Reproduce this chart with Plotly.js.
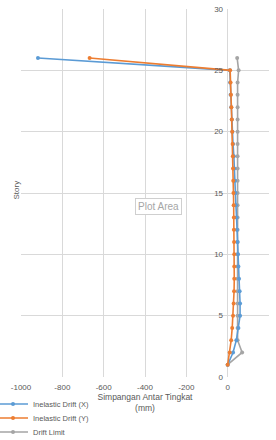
<!DOCTYPE html>
<html>
<head>
<meta charset="utf-8">
<script src="https://cdn.plot.ly/plotly-3.0.1.min.js"></script>
<style>
html,body{margin:0;padding:0;background:#fff;}
#chart{width:276px;height:440px;}
</style>
</head>
<body>
<div id="chart"></div>
<script>
var stories = [1,2,3,4,5,6,7,8,9,10,11,12,13,14,15,16,17,18,19,20,21,22,23,24,25,26];
var driftX = [0,26,42,52,60,60,58,55,52,50,48,45,43,40,38,35,32,30,26,23,20,17,14,12,10,-918];
var driftY = [0,10,17,22,26,29,31,32,32,32,31,30,30,29,28,27,26,25,24,22,20,18,16,14,12,-668];
var driftLimit = [0,70,48,48,48,48,48,48,48,48,48,48,48,48,48,48,48,48,48,48,48,48,48,48,53,46];
var seriesNames = ['Inelastic Drift (X)','Inelastic Drift (Y)','Drift Limit'];
var xTicks = [-1000,-800,-600,-400,-200,0,200];
var yTicks = [0,5,10,15,20,25,30];

var colors = ['#5b9bd5','#ed7d31','#a5a5a5'];
var legendIds = ['legend','legend2','legend3'];
var series = [driftX, driftY, driftLimit];
var traces = series.map(function(v,i){
  return {
    x: v, y: stories, name: seriesNames[i], type:'scatter', mode:'lines+markers',
    legend: legendIds[i],
    line:{color:colors[i], width:1.6},
    marker:{color:colors[i], size:4, symbol:'circle'}
  };
});
// draw drift limit underneath
traces = [traces[2], traces[0], traces[1]];

var fam = 'Liberation Sans, Arial, sans-serif';
var font = {family:fam, size:8, color:'#595959'};
function leg(py){
  return {x:(-7-21)/248, y:(377-py)/368, xref:'paper', yref:'paper', xanchor:'left', yanchor:'middle',
          font:{family:fam, size:7.5, color:'#595959'}, bgcolor:'rgba(0,0,0,0)', borderwidth:0};
}
var layout = {
  width:276, height:440,
  margin:{l:21, r:7, t:9, b:63, autoexpand:false},
  paper_bgcolor:'#fff', plot_bgcolor:'#fff',
  font: font,
  showlegend:true,
  legend: leg(404),
  legend2: leg(418),
  legend3: leg(432),
  xaxis:{range:[-1000,200], tickvals:xTicks, ticktext:xTicks.map(String),
         showgrid:true, gridcolor:'#d9d9d9', gridwidth:1, zeroline:false, showline:false,
         ticks:'outside', ticklen:2, tickcolor:'rgba(0,0,0,0)', tickfont:font,
         title:{text:'Simpangan Antar Tingkat<br>(mm)', font:{family:fam, size:8.5, color:'#595959'}, standoff:3},
         automargin:false, fixedrange:true},
  yaxis:{range:[0,30], tickvals:yTicks, ticktext:yTicks.map(String),
         anchor:'free', position:1000/1200, side:'left',
         showgrid:true, gridcolor:'#d9d9d9', gridwidth:1, zeroline:false, showline:false,
         ticks:'outside', ticklen:3, tickcolor:'rgba(0,0,0,0)', tickfont:font,
         automargin:false, fixedrange:true},
  annotations:[
    {text:'Story', xref:'paper', yref:'paper', x:(9-21)/248, y:(377-190)/368, textangle:-90,
     showarrow:false, font:{family:fam, size:8, color:'#595959'}},
    {text:'Plot Area', xref:'paper', yref:'paper', x:(158-21)/248, y:(377-206)/368,
     showarrow:false, bgcolor:'#ffffff', bordercolor:'#cfcfcf', borderwidth:1, borderpad:2,
     font:{family:fam, size:10, color:'#a6a6a6'}}
  ]
};
Plotly.newPlot('chart', traces, layout, {displayModeBar:false, staticPlot:true});
</script>
</body>
</html>
